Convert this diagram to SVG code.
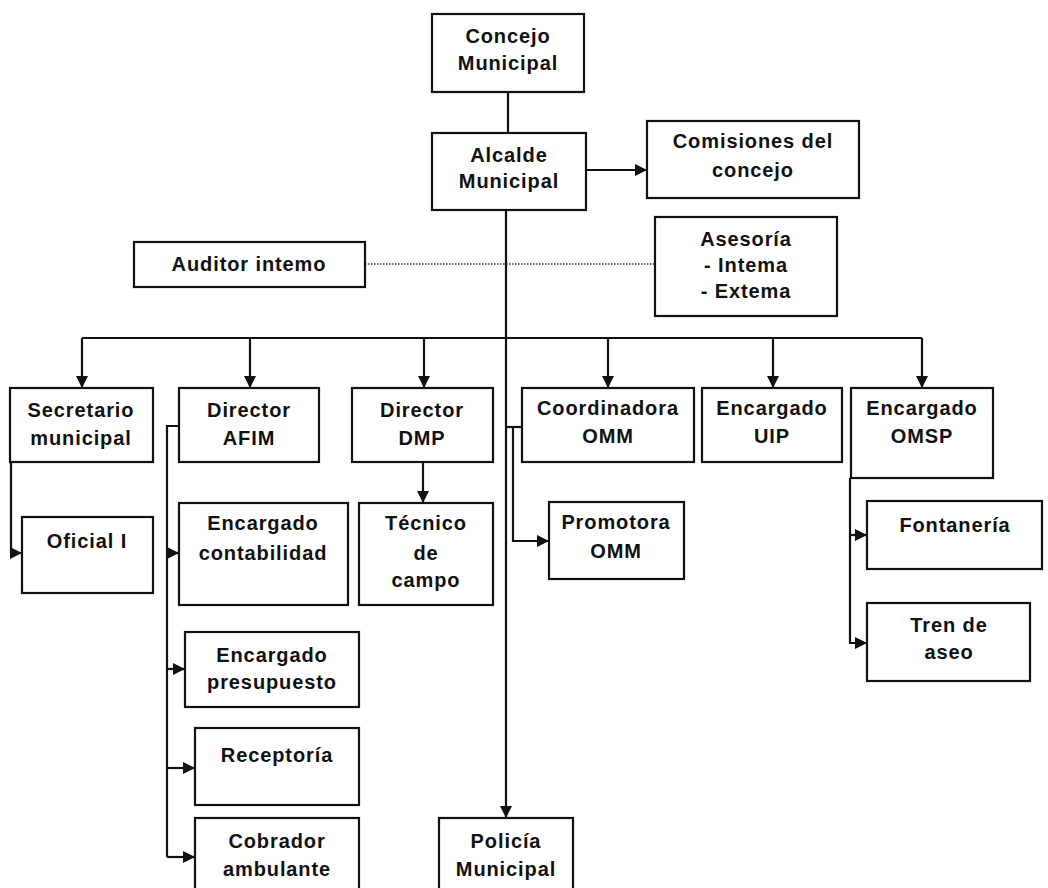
<svg xmlns="http://www.w3.org/2000/svg" width="1048" height="888" viewBox="0 0 1048 888">
<style>
.b{fill:#fff;stroke:#111;stroke-width:2.2}
.t{font-family:"Liberation Sans",Arial,sans-serif;font-size:20px;font-weight:bold;fill:#111;text-anchor:middle;letter-spacing:0.9px}
.c{fill:none;stroke:#111;stroke-width:2.2}
.d{fill:none;stroke:#333;stroke-width:1.6;stroke-dasharray:1.5 1.5}
</style>
<defs>
<marker id="a" viewBox="0 0 12 12" refX="12" refY="6" markerWidth="12" markerHeight="12" markerUnits="userSpaceOnUse" orient="auto">
<path d="M0,0 L12,6 L0,12 Z" fill="#111"/>
</marker>
</defs>
<rect width="1048" height="888" fill="#fff"/>
<g id="connectors">
<line class="c" x1="508" y1="92" x2="508" y2="133"/>
<line class="c" x1="586" y1="170" x2="647" y2="170" marker-end="url(#a)"/>
<line class="d" x1="365" y1="264" x2="655" y2="264"/>
<line class="c" x1="506" y1="210" x2="506" y2="818" marker-end="url(#a)"/>
<line class="c" x1="82" y1="338" x2="922" y2="338"/>
<line class="c" x1="82" y1="338" x2="82" y2="388" marker-end="url(#a)"/>
<line class="c" x1="250" y1="338" x2="250" y2="388" marker-end="url(#a)"/>
<line class="c" x1="424" y1="338" x2="424" y2="388" marker-end="url(#a)"/>
<line class="c" x1="608" y1="338" x2="608" y2="388" marker-end="url(#a)"/>
<line class="c" x1="773" y1="338" x2="773" y2="388" marker-end="url(#a)"/>
<line class="c" x1="922" y1="338" x2="922" y2="388" marker-end="url(#a)"/>
<polyline class="c" points="11,462 11,553 22,553" marker-end="url(#a)"/>
<polyline class="c" points="179,426 167,426 167,857"/>
<line class="c" x1="167" y1="553" x2="179" y2="553" marker-end="url(#a)"/>
<line class="c" x1="167" y1="669" x2="185" y2="669" marker-end="url(#a)"/>
<line class="c" x1="167" y1="768" x2="195" y2="768" marker-end="url(#a)"/>
<line class="c" x1="167" y1="857" x2="195" y2="857" marker-end="url(#a)"/>
<line class="c" x1="423" y1="462" x2="423" y2="503" marker-end="url(#a)"/>
<line class="c" x1="506" y1="427" x2="522" y2="427"/>
<polyline class="c" points="513,427 513,541 549,541" marker-end="url(#a)"/>
<polyline class="c" points="850,478 850,643 867,643" marker-end="url(#a)"/>
<line class="c" x1="850" y1="535" x2="867" y2="535" marker-end="url(#a)"/>
</g>
<g id="concejo"><rect class="b" x="432" y="14" width="152" height="78"/><text class="t" x="508" y="43">Concejo</text><text class="t" x="508" y="70">Municipal</text></g>
<g id="alcalde"><rect class="b" x="432" y="133" width="154" height="77"/><text class="t" x="509" y="162">Alcalde</text><text class="t" x="509" y="188">Municipal</text></g>
<g id="comisiones"><rect class="b" x="647" y="121" width="212" height="77"/><text class="t" x="753" y="148">Comisiones del</text><text class="t" x="753" y="177">concejo</text></g>
<g id="asesoria"><rect class="b" x="655" y="217" width="182" height="99"/><text class="t" x="746" y="246">Asesoría</text><text class="t" x="746" y="272">- Intema</text><text class="t" x="746" y="298">- Extema</text></g>
<g id="auditor"><rect class="b" x="134" y="242" width="231" height="45"/><text class="t" x="249" y="271">Auditor intemo</text></g>
<g id="secretario"><rect class="b" x="10" y="388" width="143" height="74"/><text class="t" x="81" y="417">Secretario</text><text class="t" x="81" y="445">municipal</text></g>
<g id="afim"><rect class="b" x="179" y="388" width="140" height="74"/><text class="t" x="249" y="417">Director</text><text class="t" x="249" y="445">AFIM</text></g>
<g id="dmp"><rect class="b" x="352" y="388" width="141" height="74"/><text class="t" x="422" y="417">Director</text><text class="t" x="422" y="445">DMP</text></g>
<g id="coordinadora"><rect class="b" x="522" y="388" width="172" height="74"/><text class="t" x="608" y="415">Coordinadora</text><text class="t" x="608" y="443">OMM</text></g>
<g id="uip"><rect class="b" x="702" y="388" width="140" height="74"/><text class="t" x="772" y="415">Encargado</text><text class="t" x="772" y="443">UIP</text></g>
<g id="omsp"><rect class="b" x="851" y="388" width="142" height="90"/><text class="t" x="922" y="415">Encargado</text><text class="t" x="922" y="443">OMSP</text></g>
<g id="oficial"><rect class="b" x="22" y="517" width="131" height="76"/><text class="t" x="87" y="548">Oficial I</text></g>
<g id="contabilidad"><rect class="b" x="179" y="503" width="169" height="102"/><text class="t" x="263" y="530">Encargado</text><text class="t" x="263" y="560">contabilidad</text></g>
<g id="tecnico"><rect class="b" x="359" y="503" width="134" height="102"/><text class="t" x="426" y="530">Técnico</text><text class="t" x="426" y="560">de</text><text class="t" x="426" y="587">campo</text></g>
<g id="promotora"><rect class="b" x="549" y="502" width="135" height="77"/><text class="t" x="616" y="529">Promotora</text><text class="t" x="616" y="558">OMM</text></g>
<g id="fontaneria"><rect class="b" x="867" y="501" width="175" height="68"/><text class="t" x="955" y="532">Fontanería</text></g>
<g id="tren"><rect class="b" x="867" y="603" width="163" height="78"/><text class="t" x="949" y="632">Tren de</text><text class="t" x="949" y="659">aseo</text></g>
<g id="presupuesto"><rect class="b" x="185" y="632" width="174" height="75"/><text class="t" x="272" y="662">Encargado</text><text class="t" x="272" y="689">presupuesto</text></g>
<g id="receptoria"><rect class="b" x="195" y="728" width="164" height="77"/><text class="t" x="277" y="762">Receptoría</text></g>
<g id="cobrador"><rect class="b" x="195" y="818" width="164" height="80"/><text class="t" x="277" y="848">Cobrador</text><text class="t" x="277" y="876">ambulante</text></g>
<g id="policia"><rect class="b" x="439" y="818" width="134" height="80"/><text class="t" x="506" y="848">Policía</text><text class="t" x="506" y="876">Municipal</text></g>
</svg>
